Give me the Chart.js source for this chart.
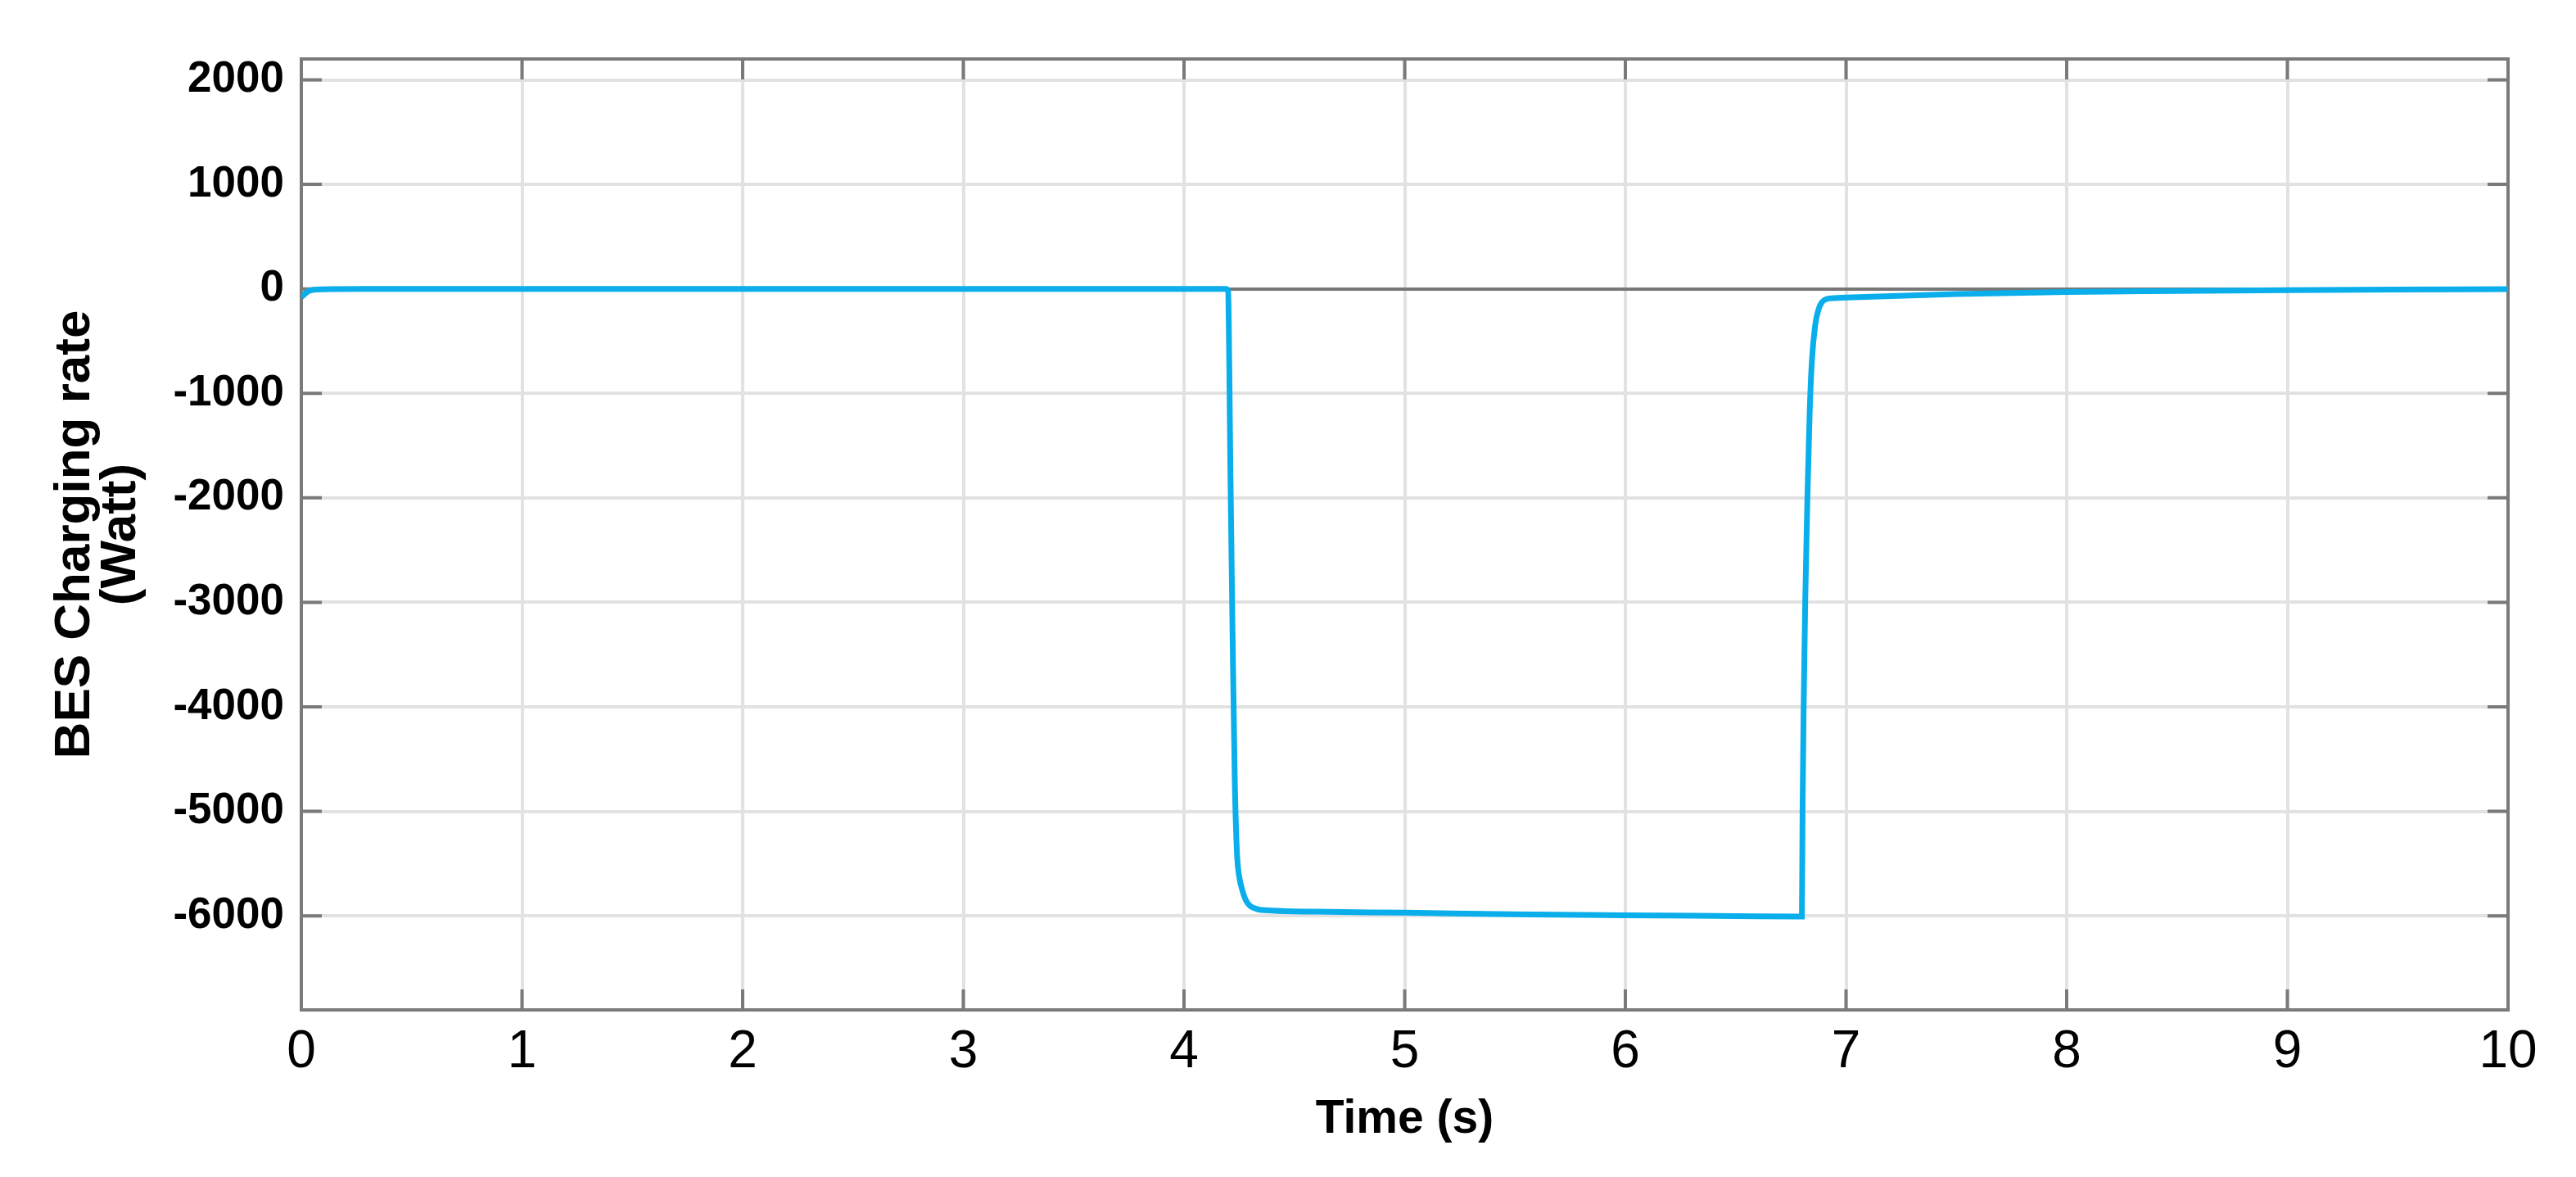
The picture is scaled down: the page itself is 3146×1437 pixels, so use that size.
<!DOCTYPE html>
<html>
<head>
<meta charset="utf-8">
<title>BES Charging rate</title>
<script src="https://cdn.jsdelivr.net/npm/chart.js@4/dist/chart.umd.min.js"></script>
<style>
  html, body { margin: 0; padding: 0; background: #fff; }
  #wrap { width: 3146px; height: 1437px; }
  canvas { display: block; background: #fff; }
</style>
</head>
<body>
<div id="wrap"><canvas id="besChart" width="3146" height="1437"></canvas></div>
<script>
// ---- data ----
const xTicks = [0, 1, 2, 3, 4, 5, 6, 7, 8, 9, 10];
const yTicks = [2000, 1000, 0, -1000, -2000, -3000, -4000, -5000, -6000];

// time (s)
const timeS = [
    0, 0.015, 0.03, 0.05, 0.1, 0.3, 1, 2, 3, 4, 4.19,
    4.2, 4.205, 4.21, 4.22, 4.23, 4.24, 4.25, 4.265, 4.28, 4.3, 4.33, 4.4, 4.6,
    5.0, 5.5, 6.0, 6.5, 6.8,
    6.803, 6.808, 6.815, 6.825, 6.835, 6.845, 6.86, 6.875, 6.89, 6.91, 6.95,
    7.0, 7.5, 8.0, 8.5, 9.0, 9.5, 10
];
// BES charging rate (W)
const chargeW = [
    -80, -50, -25, -10, -4, -1, 0, 0, 0, 0, 0,
    -20, -700, -1700, -3300, -4700, -5400, -5620, -5760, -5850, -5905, -5935, -5950, -5960,
    -5970, -5985, -5995, -6002, -6006,
    -5000, -4000, -3000, -2000, -1200, -700, -350, -200, -130, -98, -88,
    -83, -50, -30, -20, -12, -6, -3
];

const FONT = "'Liberation Sans', Arial, Helvetica, sans-serif";

// frame round the plot + inward tick marks on all four sides
const frameAndTicks = {
    id: "frameAndTicks",
    beforeDatasetsDraw(chart) {
        const { ctx, chartArea: a, scales } = chart;
        const tl = 25;
        ctx.save();
        ctx.strokeStyle = "#7a7a7a";
        ctx.lineWidth = 4;
        ctx.beginPath();
        xTicks.forEach(v => {
            const px = scales.x.getPixelForValue(v);
            ctx.moveTo(px, a.bottom); ctx.lineTo(px, a.bottom - tl);
            ctx.moveTo(px, a.top); ctx.lineTo(px, a.top + tl);
        });
        yTicks.forEach(v => {
            const py = scales.y.getPixelForValue(v);
            ctx.moveTo(a.left, py); ctx.lineTo(a.left + tl, py);
            ctx.moveTo(a.right, py); ctx.lineTo(a.right - tl, py);
        });
        ctx.stroke();
        ctx.strokeRect(a.left, a.top, a.right - a.left, a.bottom - a.top);
        ctx.restore();
    }
};

const ctx = document.getElementById("besChart").getContext("2d");

new Chart(ctx, {
    type: "line",
    data: {
        datasets: [{
            label: "BES Charging rate",
            data: timeS.map((t, i) => ({ x: t, y: chargeW[i] })),
            borderColor: "#0aaeea",
            borderWidth: 7,
            pointRadius: 0,
            fill: false,
            cubicInterpolationMode: "monotone"
        }]
    },
    options: {
        responsive: false,
        devicePixelRatio: 1,
        animation: false,
        layout: { padding: { top: 72, right: 83, left: 0, bottom: 0 } },
        plugins: {
            legend: { display: false },
            tooltip: { enabled: false }
        },
        scales: {
            x: {
                type: "linear",
                min: 0,
                max: 10,
                afterBuildTicks: s => { s.ticks = xTicks.map(v => ({ value: v })); },
                afterFit: s => { s.height = 204; },
                grid: { color: "#e2e2e2", lineWidth: 4, drawTicks: false },
                border: { display: false },
                ticks: {
                    color: "#000",
                    font: { family: FONT, size: 64 },
                    padding: 14,
                    maxRotation: 0,
                    autoSkip: false,
                    callback: v => String(v)
                },
                title: {
                    display: true,
                    text: "Time (s)",
                    color: "#000",
                    font: { family: FONT, size: 57, weight: "bold" },
                    padding: { top: 0, bottom: 36 }
                }
            },
            y: {
                min: -6900,
                max: 2200,
                afterBuildTicks: s => { s.ticks = yTicks.map(v => ({ value: v })); },
                afterFit: s => { s.width = 368; },
                grid: {
                    color: c => (c.tick && c.tick.value === 0 ? "#777777" : "#e2e2e2"),
                    lineWidth: 4,
                    drawTicks: false
                },
                border: { display: false },
                ticks: {
                    color: "#000",
                    font: { family: FONT, size: 53, weight: "bold" },
                    padding: 21,
                    autoSkip: false,
                    callback: v => String(v)
                },
                title: {
                    display: true,
                    text: ["BES Charging rate", "(Watt)"],
                    color: "#000",
                    font: { family: FONT, size: 62, weight: "bold", lineHeight: 0.9 },
                    padding: { top: 64, bottom: 0 }
                }
            }
        }
    },
    plugins: [frameAndTicks]
});
</script>
</body>
</html>
